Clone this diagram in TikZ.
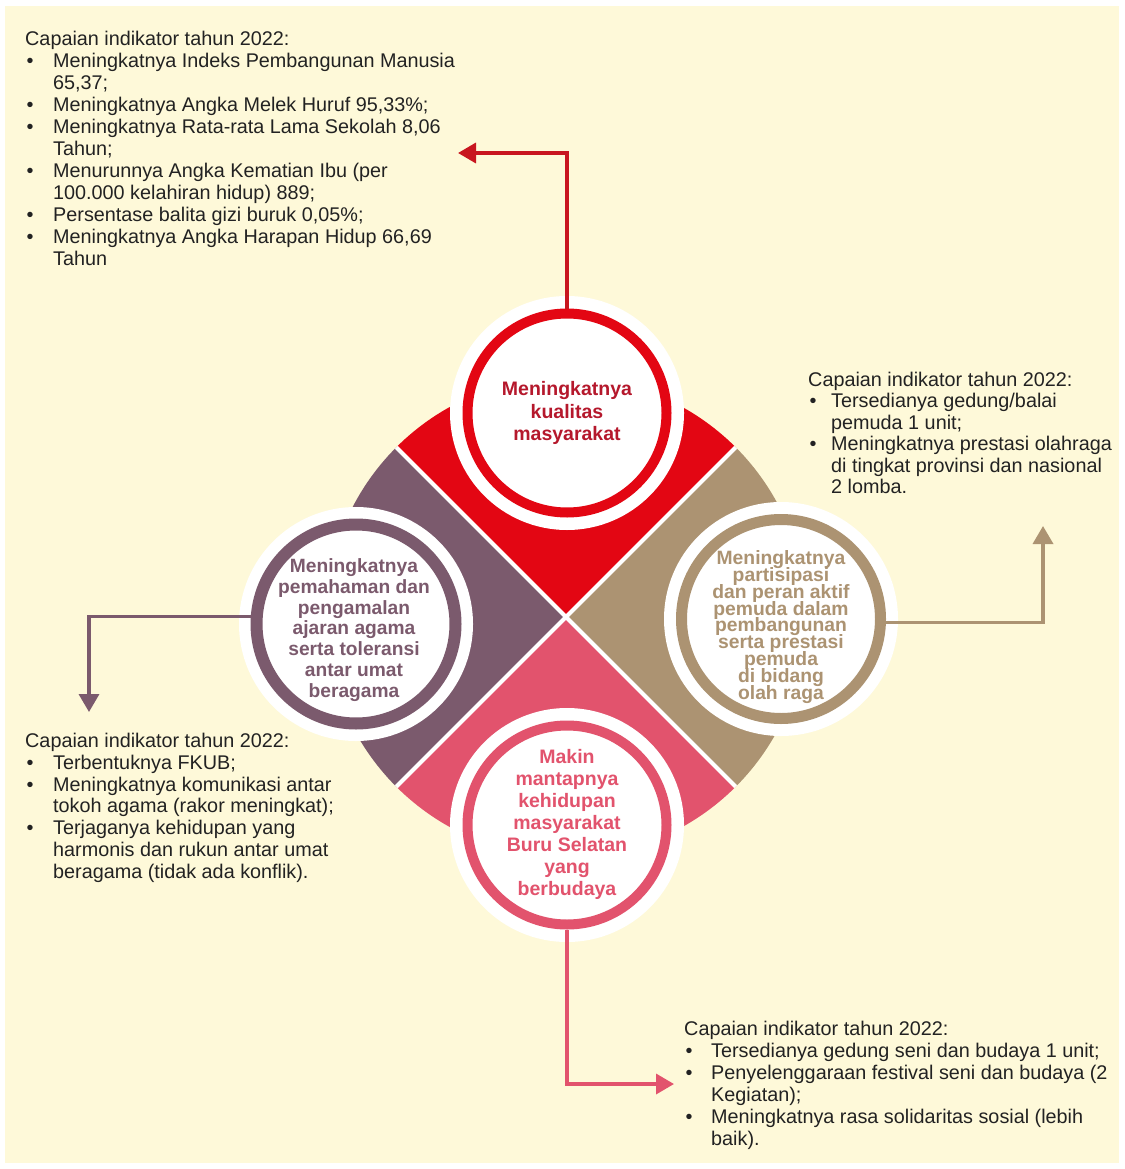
\documentclass[tikz,border=0pt]{standalone}
\usepackage{fontspec}
\setmainfont{Liberation Sans}
\usetikzlibrary{arrows.meta}
\definecolor{cream}{HTML}{FEF9D9}
\definecolor{cred}{HTML}{E30613}
\definecolor{credtext}{HTML}{B5182C}
\definecolor{credline}{HTML}{C8161F}
\definecolor{cpurple}{HTML}{7B5A6D}
\definecolor{ctan}{HTML}{AC9372}
\definecolor{cpink}{HTML}{E2536D}
\definecolor{textgray}{HTML}{222222}
\newcommand{\blt}[1]{\makebox[#1][l]{\hspace{1.5pt}•}}
\newcommand{\tightls}{\lineskiplimit=-50pt\relax}
\tikzset{
  ring/.style={circle, draw=#1, fill=white, line width=10pt, minimum size=199pt, inner sep=0pt},
  ctext/.style={align=center, text=#1, inner sep=0pt, font=\fontsize{19.5}{22.5}\selectfont\bfseries},
  blk/.style={align=left, anchor=north west, inner sep=0pt, text=textgray, font=\fontsize{19.8}{21.5}\selectfont},
  conn/.style={draw=#1, line width=3.5pt, -{Triangle[length=18pt,width=20pt]}}
}
\begin{document}
\begin{tikzpicture}[x=1pt,y=-1pt]
\useasboundingbox (0,0) rectangle (1124,1169);
\fill[white] (0,0) rectangle (1124,1169);
\fill[cream] (5,6) rectangle (1119,1163);
% centre of the four sectors
\coordinate (O) at (566,617);
\begin{scope}
  \clip (O) -- +(-300,-300) -- +(300,-300) -- cycle;
  \fill[cred] (O) circle[radius=240pt];
\end{scope}
\begin{scope}
  \clip (O) -- +(-300,-300) -- +(-300,300) -- cycle;
  \fill[cpurple] (O) circle[radius=240pt];
\end{scope}
\begin{scope}
  \clip (O) -- +(300,-300) -- +(300,300) -- cycle;
  \fill[ctan] (O) circle[radius=240pt];
\end{scope}
\begin{scope}
  \clip (O) -- +(-300,300) -- +(300,300) -- cycle;
  \fill[cpink] (O) circle[radius=240pt];
\end{scope}
\begin{scope}
  \clip (O) circle[radius=240pt];
  \draw[white, line width=4pt] (O) +(-250,-250) -- +(250,250);
  \draw[white, line width=4pt] (O) +(250,-250) -- +(-250,250);
\end{scope}
% white halos
\fill[white] (567,413) circle[radius=117pt];
\fill[white] (356,624) circle[radius=117pt];
\fill[white] (781,619) circle[radius=117pt];
\fill[white] (567,825) circle[radius=117pt];
% rings
\node[ring=cred] (red) at (567,413) {};
\node[ring=cpurple, line width=12pt] (purple) at (356,624) {};
\node[ring=ctan, line width=11pt] (tan) at (781,619) {};
\node[ring=cpink] (pink) at (567,825) {};
% circle texts
\node[ctext=credtext] (redtxt) at (567,413) {Meningkatnya\\kualitas\\masyarakat};
\node[ctext=cpurple, font=\fontsize{19.2}{20.8}\selectfont\bfseries] (purpletxt) at (354,630) {Meningkatnya\\pemahaman dan\\pengamalan\\ajaran agama\\serta toleransi\\antar umat\\beragama};
\node[ctext=ctan, font=\fontsize{19.3}{16.9}\selectfont\bfseries\tightls] (tantxt) at (781,627) {Meningkatnya\\partisipasi\\dan peran aktif\\pemuda dalam\\pembangunan\\serta prestasi\\pemuda\\di bidang\\olah raga};
\node[ctext=cpink, font=\fontsize{19.5}{22}\selectfont\bfseries] (pinktxt) at (567,824) {Makin\\mantapnya\\kehidupan\\masyarakat\\Buru Selatan\\yang\\berbudaya};
% text blocks
\node[blk, font=\fontsize{19.8}{22}\selectfont] (tl) at (25,31) {Capaian indikator tahun 2022:\\
\blt{28pt}Meningkatnya Indeks Pembangunan Manusia\\
\hspace*{28pt}65,37;\\
\blt{28pt}Meningkatnya Angka Melek Huruf 95,33\%;\\
\blt{28pt}Meningkatnya Rata-rata Lama Sekolah 8,06\\
\hspace*{28pt}Tahun;\\
\blt{28pt}Menurunnya Angka Kematian Ibu (per\\
\hspace*{28pt}100.000 kelahiran hidup) 889;\\
\blt{28pt}Persentase balita gizi buruk 0,05\%;\\
\blt{28pt}Meningkatnya Angka Harapan Hidup 66,69\\
\hspace*{28pt}Tahun};
\node[blk, font=\fontsize{19.8}{21.4}\selectfont] (tr) at (808,372) {Capaian indikator tahun 2022:\\
\blt{23pt}Tersedianya gedung/balai\\
\hspace*{23pt}pemuda 1 unit;\\
\blt{23pt}Meningkatnya prestasi olahraga\\
\hspace*{23pt}di tingkat provinsi dan nasional\\
\hspace*{23pt}2 lomba.};
\node[blk, font=\fontsize{19.8}{21.8}\selectfont] (bl) at (25,733) {Capaian indikator tahun 2022:\\
\blt{28pt}Terbentuknya FKUB;\\
\blt{28pt}Meningkatnya komunikasi antar\\
\hspace*{28pt}tokoh agama (rakor meningkat);\\
\blt{28pt}Terjaganya kehidupan yang\\
\hspace*{28pt}harmonis dan rukun antar umat\\
\hspace*{28pt}beragama (tidak ada konflik).};
\node[blk, font=\fontsize{19.8}{22}\selectfont] (br) at (684,1021) {Capaian indikator tahun 2022:\\
\blt{27pt}Tersedianya gedung seni dan budaya 1 unit;\\
\blt{27pt}Penyelenggaraan festival seni dan budaya (2\\
\hspace*{27pt}Kegiatan);\\
\blt{27pt}Meningkatnya rasa solidaritas sosial (lebih\\
\hspace*{27pt}baik).};
% connectors
\coordinate (rtip) at (458,153);
\coordinate (ptip) at (89,712);
\coordinate (ttip) at (1043,526);
\coordinate (ktip) at (674,1084);
\draw[conn=credline] (red.north) |- (rtip);
\draw[conn=cpurple] (purple.176) -| (ptip);
\draw[conn=ctan] (tan.-2) -| (ttip);
\draw[conn=cpink] (pink.south) |- (ktip);
\end{tikzpicture}
\end{document}
